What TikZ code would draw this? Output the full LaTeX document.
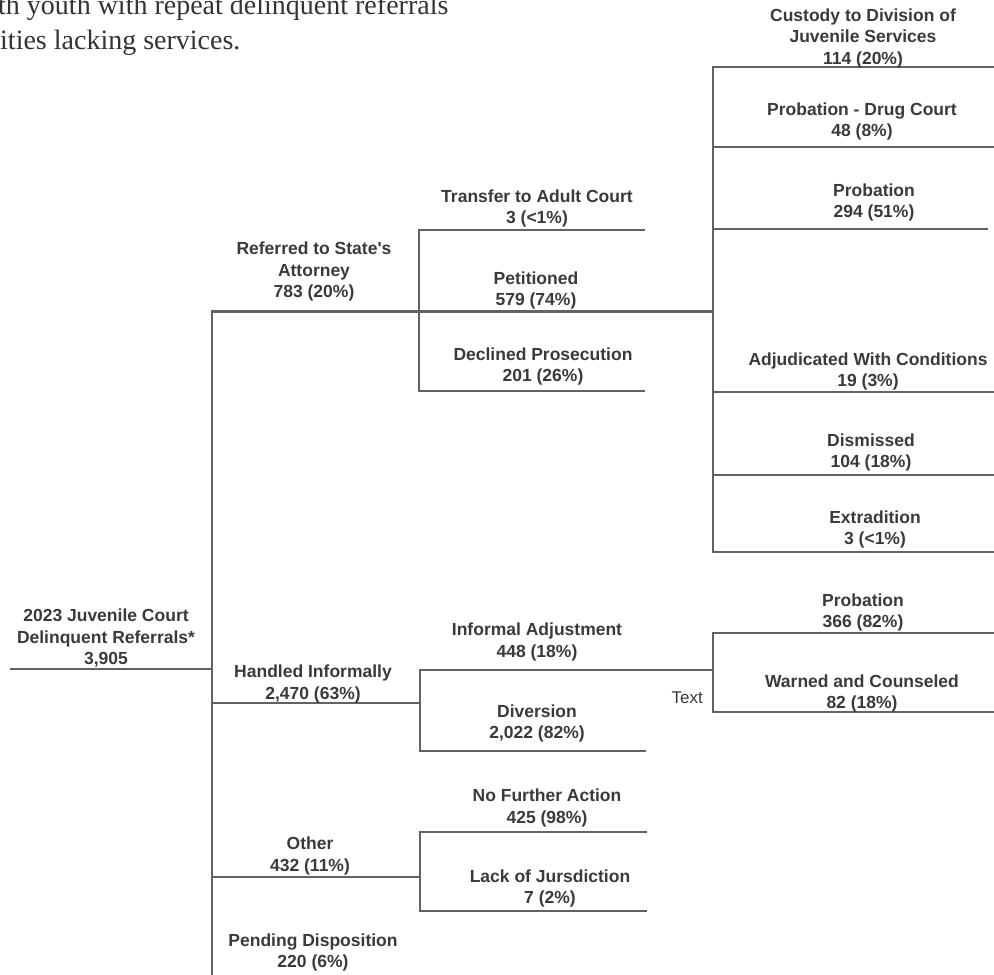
\documentclass[tikz,border=0pt]{standalone}
\usepackage{fontspec}
\newfontfamily\labfont{Liberation Sans}
\newfontfamily\introfont{Liberation Serif}
\definecolor{txt}{HTML}{3A3A3A}
\definecolor{ln}{HTML}{626262}
\definecolor{intro}{HTML}{333333}
\tikzset{
  lbl/.style={anchor=north, inner sep=0pt, align=center, text=txt,
    font=\labfont\bfseries\fontsize{17.5}{21.4}\selectfont,
    execute at begin node={\rule{0pt}{15pt}}},
  conn/.style={draw=ln, line width=2.3pt, line join=miter},
  introtxt/.style={anchor=base west, inner sep=0pt, text=intro,
    font=\introfont\fontsize{28}{35}\selectfont}
}
\begin{document}
\begin{tikzpicture}[x=1pt,y=-1pt]
\useasboundingbox (0,0) rectangle (994,975);
\clip (0,0) rectangle (994,975);

% intro text (cut by the frame)
\node[introtxt] (introA) at (-2,14) {th youth with repeat delinquent referrals};
\node[introtxt] (introB) at (0,49) {ities lacking services.};

% ---------- junction coordinates ----------
\coordinate (rootL) at (10,669);
\coordinate (rootR) at (212,669);
\coordinate (trunkTop) at (212,311.5);
\coordinate (trunkBot) at (212,985);
% referred group
\coordinate (refJ) at (419,311.5);
\coordinate (refTop) at (419,230);
\coordinate (refBot) at (419,391);
\coordinate (transE) at (645,230);
\coordinate (declE) at (645,391);
\coordinate (petJ) at (713,311.5);
% petitioned group
\coordinate (petTop) at (713,67);
\coordinate (petBot) at (713,552);
\coordinate (custE) at (996,67);
\coordinate (drugE) at (996,147);
\coordinate (probE) at (988,229);
\coordinate (probW) at (713,229);
\coordinate (drugW) at (713,147);
\coordinate (adjW) at (713,392);
\coordinate (adjE) at (996,392);
\coordinate (disW) at (713,475);
\coordinate (disE) at (996,475);
\coordinate (extE) at (996,552);
% handled group
\coordinate (hanS) at (212,703);
\coordinate (hanJ) at (420,703);
\coordinate (hanTop) at (420,670);
\coordinate (hanBot) at (420,751);
\coordinate (divE) at (646,751);
\coordinate (infJ) at (713,670);
\coordinate (infTop) at (713,633);
\coordinate (infBot) at (713,712);
\coordinate (prob2E) at (996,633);
\coordinate (warnE) at (996,712);
% other group
\coordinate (othS) at (212,877);
\coordinate (othJ) at (420,877);
\coordinate (othTop) at (420,832);
\coordinate (othBot) at (420,911);
\coordinate (nfaE) at (647,832);
\coordinate (lackE) at (647,911);

% ---------- connectors ----------
\draw[conn] (rootL) -- (rootR);
\draw[conn] (petJ) -- (trunkTop) -- (trunkBot);
\draw[conn] (transE) -- (refTop) -- (refBot) -- (declE);
\draw[conn] (custE) -- (petTop) -- (petBot) -- (extE);
\draw[conn] (drugW) -- (drugE);
\draw[conn] (probW) -- (probE);
\draw[conn] (adjW) -- (adjE);
\draw[conn] (disW) -- (disE);
\draw[conn] (hanS) -- (hanJ);
\draw[conn] (infJ) -- (hanTop) -- (hanBot) -- (divE);
\draw[conn] (prob2E) -- (infTop) -- (infBot) -- (warnE);
\draw[conn] (othS) -- (othJ);
\draw[conn] (nfaE) -- (othTop) -- (othBot) -- (lackE);

% ---------- labels ----------
\node[lbl] (root) at (106,609) {2023 Juvenile Court\\Delinquent Referrals*\\3,905};
\node[lbl] (referred) at (314,242) {Referred to State's\\Attorney\\783 (20\%)};
\node[lbl] (handled) at (313,665) {Handled Informally\\2,470 (63\%)};
\node[lbl] (other) at (310,837) {Other\\432 (11\%)};
\node[lbl] (pending) at (313,933.5) {Pending Disposition\\220 (6\%)};

\node[lbl] (transfer) at (537,189.5) {Transfer to Adult Court\\3 (<1\%)};
\node[lbl] (petitioned) at (536,271.5) {Petitioned\\579 (74\%)};
\node[lbl] (declined) at (543,347.5) {Declined Prosecution\\201 (26\%)};

\node[lbl] (custody) at (863,8.5) {Custody to Division of\\Juvenile Services\\114 (20\%)};
\node[lbl] (drug) at (862,102.5) {Probation - Drug Court\\48 (8\%)};
\node[lbl] (prob) at (874,183.5) {Probation\\294 (51\%)};
\node[lbl] (adjud) at (868,352.5) {Adjudicated With Conditions\\19 (3\%)};
\node[lbl] (dismissed) at (871,433.5) {Dismissed\\104 (18\%)};
\node[lbl] (extradition) at (875,510.5) {Extradition\\3 (<1\%)};

\node[lbl] (informal) at (537,623) {Informal Adjustment\\448 (18\%)};
\node[lbl] (diversion) at (537,704.5) {Diversion\\2,022 (82\%)};
\node[lbl] (prob2) at (863,593.5) {Probation\\366 (82\%)};
\node[lbl] (warned) at (862,674.5) {Warned and Counseled\\82 (18\%)};
\node[anchor=base east, inner sep=0pt, text=txt, font=\labfont\fontsize{17}{20}\selectfont] (textlbl) at (703,703) {Text};

\node[lbl] (nfa) at (547,789) {No Further Action\\425 (98\%)};
\node[lbl] (lack) at (550,869.5) {Lack of Jursdiction\\7 (2\%)};
\end{tikzpicture}
\end{document}
